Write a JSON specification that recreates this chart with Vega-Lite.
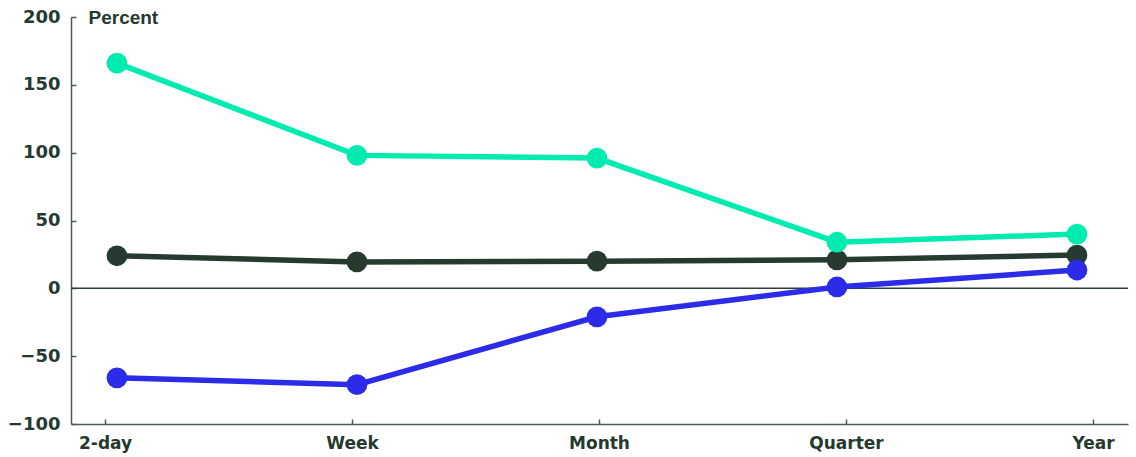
{
  "$schema": "https://vega.github.io/schema/vega-lite/v6.json",
  "width": 1057,
  "height": 407,
  "autosize": "none",
  "padding": {"left": 71, "top": 17, "right": 8, "bottom": 33},
  "background": "white",
  "config": {
    "view": {"stroke": null},
    "axis": {
      "domainColor": "#4a5b52",
      "domainWidth": 1.5,
      "tickColor": "#4a5b52",
      "tickWidth": 1.5,
      "tickSize": -5,
      "grid": false,
      "labelColor": "#26392f",
      "labelFont": "DejaVu Sans",
      "labelFontWeight": "bold",
      "titleColor": "#26392f"
    }
  },
  "datasets": {
    "series": [
      {"series": "Series 2", "period": "2-day", "value": 24},
      {"series": "Series 2", "period": "Week", "value": 19.5},
      {"series": "Series 2", "period": "Month", "value": 20},
      {"series": "Series 2", "period": "Quarter", "value": 21},
      {"series": "Series 2", "period": "Year", "value": 24.5},
      {"series": "Series 3", "period": "2-day", "value": -66},
      {"series": "Series 3", "period": "Week", "value": -71},
      {"series": "Series 3", "period": "Month", "value": -21},
      {"series": "Series 3", "period": "Quarter", "value": 1},
      {"series": "Series 3", "period": "Year", "value": 13.5},
      {"series": "Series 1", "period": "2-day", "value": 166},
      {"series": "Series 1", "period": "Week", "value": 98},
      {"series": "Series 1", "period": "Month", "value": 96},
      {"series": "Series 1", "period": "Quarter", "value": 34},
      {"series": "Series 1", "period": "Year", "value": 40}
    ],
    "periods": [
      {"period": "2-day"}, {"period": "Week"}, {"period": "Month"}, {"period": "Quarter"}, {"period": "Year"}
    ],
    "zero": [{"value": 0}]
  },
  "layer": [
    {
      "data": {"name": "periods"},
      "mark": {"type": "point", "opacity": 0},
      "encoding": {
        "x": {
          "field": "period", "type": "ordinal", "sort": null,
          "scale": {"type": "point", "padding": 0.14, "align": 0.493},
          "axis": {"title": null, "labelAngle": 0, "labelFontSize": 17, "labelPadding": 16}
        },
        "y": {
          "datum": 0, "type": "quantitative",
          "scale": {"domain": [-100, 200]},
          "axis": {
            "values": [-100, -50, 0, 50, 100, 150, 200],
            "labelFontSize": 18, "labelPadding": 16,
            "title": "Percent", "titleAngle": 0, "titleAlign": "left", "titleBaseline": "middle",
            "titleX": 17, "titleY": 0, "titleFont": "Liberation Sans", "titleFontSize": 19, "titleFontWeight": "bold"
          }
        }
      }
    },
    {
      "data": {"name": "zero"},
      "mark": {"type": "rule", "color": "#2e4036", "strokeWidth": 1.5},
      "encoding": {
        "y": {
          "field": "value", "type": "quantitative", "scale": {"domain": [-100, 200]},
          "axis": {
            "values": [-100, -50, 0, 50, 100, 150, 200],
            "labelFontSize": 18, "labelPadding": 16,
            "title": "Percent", "titleAngle": 0, "titleAlign": "left", "titleBaseline": "middle",
            "titleX": 17, "titleY": 0, "titleFont": "Liberation Sans", "titleFontSize": 19, "titleFontWeight": "bold"
          }
        }
      }
    },
    {
      "data": {"name": "series"},
      "mark": {"type": "line", "strokeWidth": 5.5, "point": {"filled": true, "size": 430, "opacity": 1}},
      "encoding": {
        "x": {
          "field": "period", "type": "ordinal", "sort": ["2-day", "Week", "Month", "Quarter", "Year"],
          "scale": {"type": "point", "padding": 0.202, "align": 0.474},
          "axis": null
        },
        "y": {
          "field": "value", "type": "quantitative", "scale": {"domain": [-100, 200]},
          "axis": {
            "values": [-100, -50, 0, 50, 100, 150, 200],
            "labelFontSize": 18, "labelPadding": 16,
            "title": "Percent", "titleAngle": 0, "titleAlign": "left", "titleBaseline": "middle",
            "titleX": 17, "titleY": 0, "titleFont": "Liberation Sans", "titleFontSize": 19, "titleFontWeight": "bold"
          }
        },
        "color": {
          "field": "series", "type": "nominal",
          "scale": {"domain": ["Series 2", "Series 3", "Series 1"], "range": ["#263a2f", "#2b2be8", "#00ebb0"]},
          "legend": null
        }
      }
    }
  ],
  "resolve": {"scale": {"x": "independent"}}
}
